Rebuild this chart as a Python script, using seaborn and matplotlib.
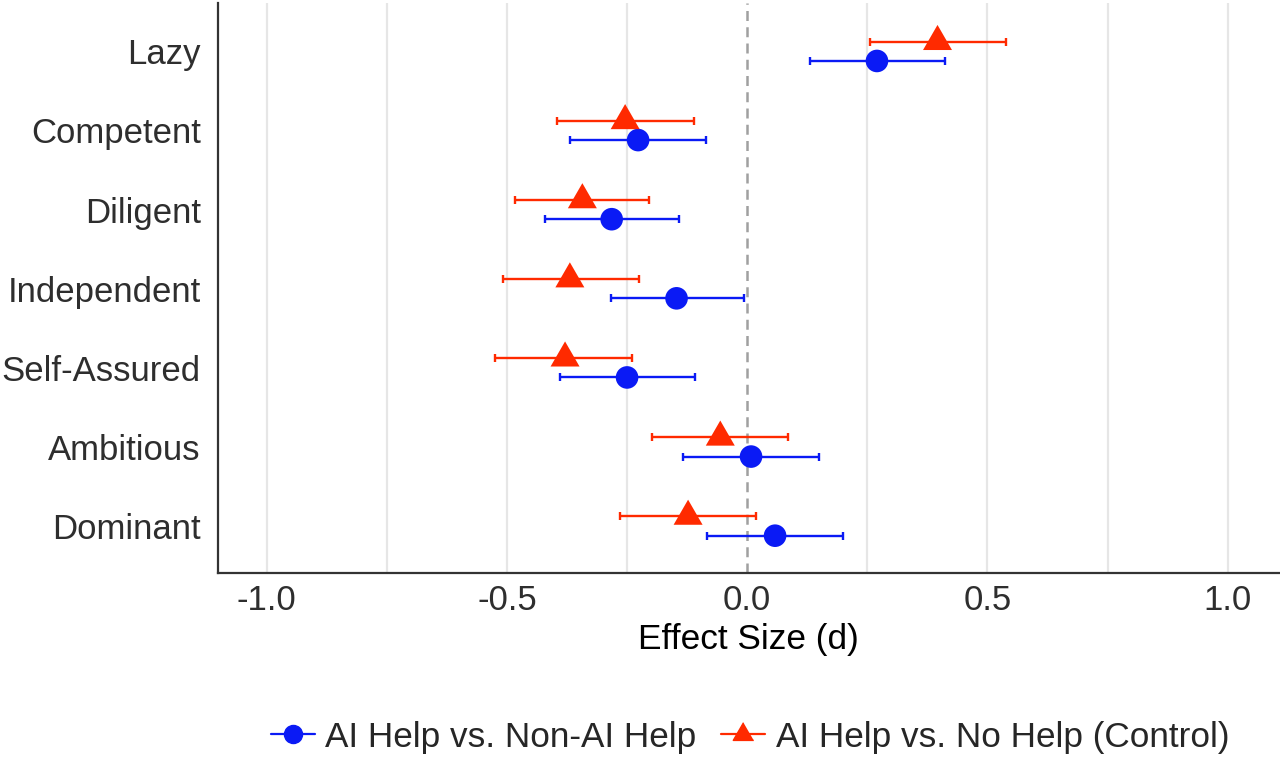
import pandas as pd
import numpy as np
import matplotlib.pyplot as plt
from matplotlib.lines import Line2D
import seaborn as sns

traits = ["Lazy", "Competent", "Diligent", "Independent", "Self-Assured", "Ambitious", "Dominant"]

# AI Help vs. Non-AI Help (blue circles)
nonai_d = [0.270, -0.227, -0.282, -0.147, -0.250, 0.008, 0.058]
nonai_lo = [0.130, -0.369, -0.421, -0.284, -0.390, -0.133, -0.083]
nonai_hi = [0.411, -0.085, -0.142, -0.006, -0.108, 0.150, 0.200]

# AI Help vs. No Help (Control) (red triangles)
ctrl_d = [0.396, -0.254, -0.343, -0.369, -0.379, -0.056, -0.123]
ctrl_lo = [0.255, -0.396, -0.483, -0.508, -0.525, -0.198, -0.265]
ctrl_hi = [0.5375, -0.110, -0.2035, -0.226, -0.240, 0.085, 0.019]

g_blue = "AI Help vs. Non-AI Help"
g_red = "AI Help vs. No Help (Control)"
blue = "#0a1af5"
red = "#ff2a00"

pos = np.arange(len(traits))
df = pd.concat([
    pd.DataFrame({"trait": traits, "group": g_blue, "d": nonai_d, "lo": nonai_lo, "hi": nonai_hi, "y": pos + 0.122}),
    pd.DataFrame({"trait": traits, "group": g_red, "d": ctrl_d, "lo": ctrl_lo, "hi": ctrl_hi, "y": pos - 0.122}),
])

sns.set_style("white")
plt.rcParams["font.family"] = ["Liberation Sans", "DejaVu Sans"]

fig = plt.figure(figsize=(12.8, 7.6), dpi=100)
ax = fig.add_axes([0.170, 0.246, 0.829, 0.750])

# grid (major + minor vertical lines)
for gx in np.arange(-1.0, 1.01, 0.25):
    if abs(gx) > 1e-9:
        ax.axvline(gx, color="#e6e6e6", lw=1.6, zorder=0)
ax.axvline(0, color="#a0a0a0", lw=1.8, ls=(0, (4, 2.5)), zorder=1)

# confidence intervals
for grp, col in [(g_red, red), (g_blue, blue)]:
    sub = df[df["group"] == grp]
    ax.errorbar(sub["d"], sub["y"], xerr=[sub["d"] - sub["lo"], sub["hi"] - sub["d"]],
                fmt="none", ecolor=col, elinewidth=1.7, capsize=3, capthick=1.7, zorder=2)

tri = [(0, 0.577), (-0.5, -0.289), (0.5, -0.289)]
sns.scatterplot(data=df, x="d", y="y", hue="group", style="group", size="group",
                palette={g_blue: blue, g_red: red},
                markers={g_blue: "o", g_red: tri},
                sizes={g_blue: 265, g_red: 580},
                linewidth=0, alpha=1, legend=False, ax=ax, zorder=3)

ax.set_xlim(-1.102, 1.106)
ax.set_ylim(6.594, -0.61)
ax.set_yticks(pos)
ax.set_yticklabels(traits)
ax.set_xticks([-1.0, -0.5, 0.0, 0.5, 1.0])
ax.set_xticklabels(["-1.0", "-0.5", "0.0", "0.5", "1.0"])
ax.tick_params(axis="both", length=0, labelsize=25, labelcolor="#2e2e2e")
ax.tick_params(axis="y", pad=12)
ax.tick_params(axis="x", pad=8)
ax.set_xlabel("Effect Size (d)", fontsize=25.4, color="black", labelpad=4)
ax.set_ylabel("")

for s in ["top", "right"]:
    ax.spines[s].set_visible(False)
for s in ["left", "bottom"]:
    ax.spines[s].set_color("#333333")
    ax.spines[s].set_linewidth(1.6)

handles = [
    Line2D([0], [0], color=blue, marker="o", markersize=13, lw=1.6, label=g_blue),
    Line2D([0], [0], color=red, marker=tri, markersize=17, lw=1.6, label=g_red),
]
fig.legend(handles=handles, loc="center", bbox_to_anchor=(0.586, 0.03), ncol=2,
           frameon=False, fontsize=25.3, handlelength=1.25, handletextpad=0.3,
           columnspacing=0.7)

fig.savefig("out.png", dpi=100, facecolor="white")
